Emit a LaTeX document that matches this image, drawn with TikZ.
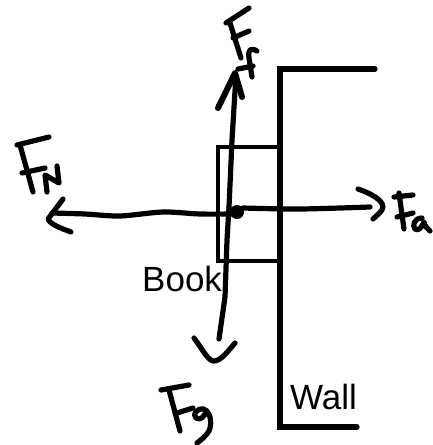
\documentclass[tikz,border=0pt]{standalone}
\usepackage{fontspec}
\setmainfont{Liberation Sans}
\tikzset{
  inkwide/.style={line width=5.2pt,line cap=round,line join=round},
  inkhead/.style={line width=6pt,line cap=round,line join=round},
  boxline/.style={line width=4.6pt,line join=miter},
  wallline/.style={line width=5.2pt,line cap=round,line join=miter},
  lbl/.style={inner sep=0pt,anchor=base west,font=\fontsize{35}{35}\selectfont}
}
\begin{document}
\begin{tikzpicture}[x=1pt,y=-1pt]
\useasboundingbox (0,0) rectangle (433,445);
% wall and book
\draw[wallline] (375,69) -- (280,69) -- (280,427) -- (357,427);
\draw[boxline] (278,147) -- (218,147) -- (218,261) -- (278,261);
% arrows
\draw[inkwide] plot[smooth] coordinates {(52,213) (85,214) (120,216) (163,212) (200,214) (237,214)};
\draw[inkwide] (63,199) -- (48,219) .. controls (50,224) and (60,228) .. (71,232);
\draw[inkwide] (229,207) -- (232,140) -- (236,75);
\draw[inkhead] (218,108) -- (235,73) -- (242,97);
\draw[inkwide] (229,207) -- (227,240) -- (225,297) -- (219,339);
\draw[inkwide] (194,338) .. controls (203,350) and (208,361) .. (214,361) .. controls (221,361) and (228,351) .. (235,343);
\draw[inkwide] plot[smooth] coordinates {(243,208) (300,209) (370,207)};
\draw[inkwide] (358,189) .. controls (370,193) and (383,200) .. (383,207) .. controls (383,211) and (377,215) .. (373,219);
\fill (237,212) circle[radius=7];
% F_N
\draw[inkwide] (49,137) -- (17,145);
\draw[inkwide] (20,145) -- (33,192);
\draw[inkwide] (22,173) -- (45,168);
\draw[inkwide] (47,192) -- (45,175) -- (59,183) -- (57,166);
% F_f
\draw[inkwide] (249,8) -- (226,23);
\draw[inkwide] (230,23) -- (241,58);
\draw[inkwide] (233,38) -- (249,31);
\draw[inkwide] (257,51) .. controls (250,47) and (248,50) .. (249,58) -- (252,77);
\draw[inkwide] (238,69) -- (253,66);
% F_a
\draw[inkwide] (394,197) -- (413,195);
\draw[inkwide] (399,193) -- (404,229);
\draw[inkwide] (397,217) -- (413,213);
\draw[inkwide] (422,218) .. controls (414,218) and (412,226) .. (415,229) .. controls (419,232) and (422,226) .. (424,222) .. controls (425,226) and (427,229) .. (430,231);
% F_g
\draw[inkwide] (189,385) -- (161,390);
\draw[inkwide] (169,390) -- (180,431);
\draw[inkwide] (177,413) -- (193,408);
\draw[inkwide] (204,409) .. controls (197,408) and (192,414) .. (196,418) .. controls (200,421) and (206,416) .. (206,410) .. controls (211,415) and (212,424) .. (209,431) .. controls (206,436) and (201,440) .. (197,443);
% labels
\node[lbl] (book) at (142,291) {Book};
\node[lbl] (wall) at (290,409) {Wall};
\end{tikzpicture}
\end{document}
